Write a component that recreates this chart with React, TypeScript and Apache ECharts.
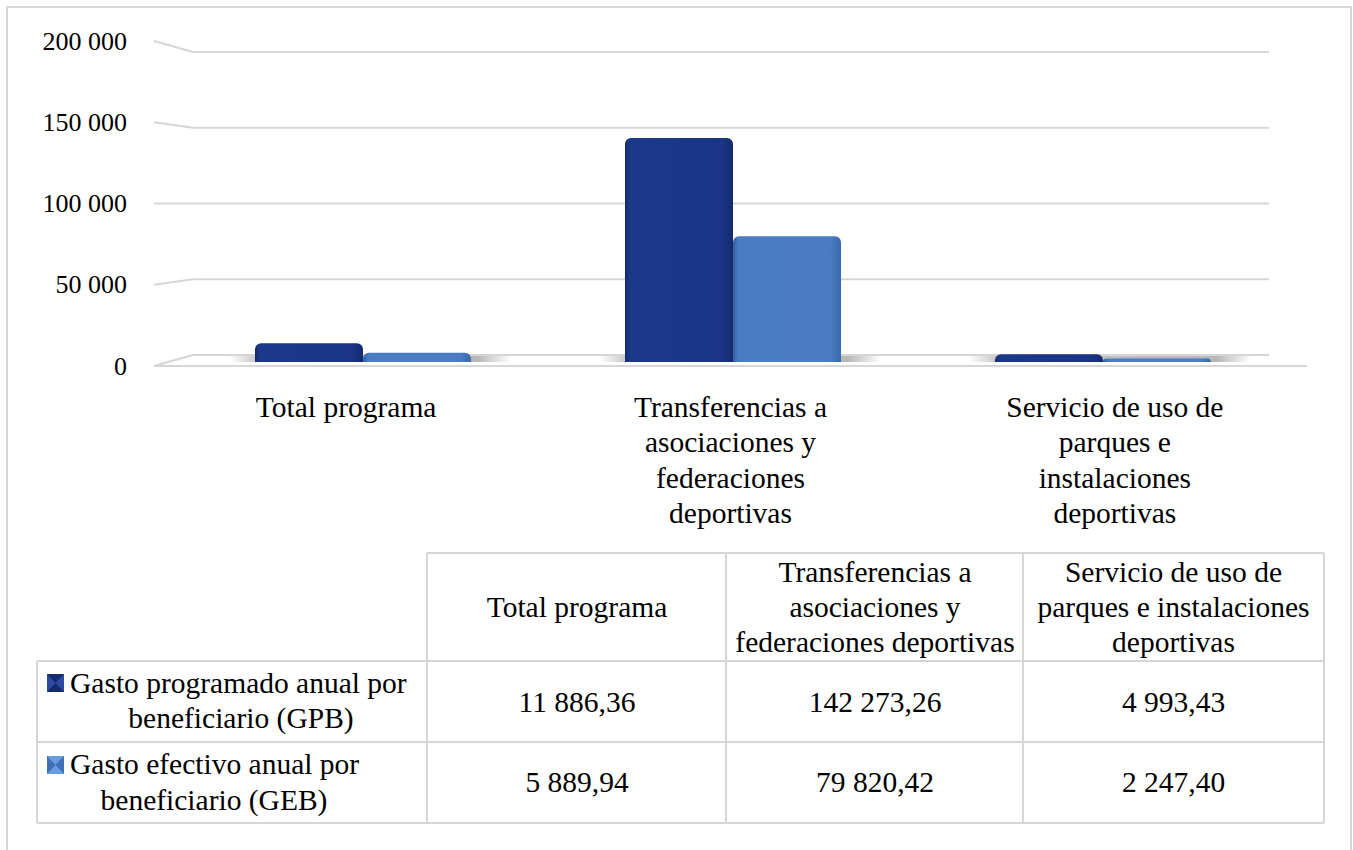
import React, { useEffect, useRef } from "react";
import * as echarts from "echarts";

// ---------- data ----------
const categories = [
  "Total programa",
  "Transferencias a asociaciones y federaciones deportivas",
  "Servicio de uso de parques e instalaciones deportivas",
];
const axisCategoryLabels = [
  "Total programa",
  "Transferencias a\nasociaciones y\nfederaciones\ndeportivas",
  "Servicio de uso de\nparques e\ninstalaciones\ndeportivas",
];
const tableHeaderLabels = [
  "Total programa",
  "Transferencias a\nasociaciones y\nfederaciones deportivas",
  "Servicio de uso de\nparques e instalaciones\ndeportivas",
];
const seriesNames = [
  "Gasto programado anual por beneficiario (GPB)",
  "Gasto efectivo anual por beneficiario (GEB)",
];
const seriesNameLines = [
  ["Gasto programado anual por", "beneficiario (GPB)"],
  ["Gasto efectivo anual por", "beneficiario (GEB)"],
];
const gpbValues = [11886.36, 142273.26, 4993.43];
const gebValues = [5889.94, 79820.42, 2247.4];
const yTicks = [0, 50000, 100000, 150000, 200000];
const yTickLabels = ["0", "50 000", "100 000", "150 000", "200 000"];

// ---------- helpers ----------
const fmt = (v: number) => {
  const [i, d] = v.toFixed(2).split(".");
  return i.replace(/\B(?=(\d{3})+(?!\d))/g, " ") + "," + d;
};
const FONT = "Liberation Serif";
const GRID_LINE = "#d6d6d6";
const DARK = "#1b3686";
const LIGHT = "#4a7cc4";

function txt(text: string, x: number, y: number, align: string, vAlign: string, extra: any = {}) {
  return {
    type: "text",
    style: {
      text,
      x,
      y,
      fill: "#000",
      fontSize: 29.5,
      fontFamily: FONT,
      align,
      verticalAlign: vAlign,
      textAlign: align,
      textVerticalAlign: vAlign,
      lineHeight: 35,
      ...extra,
    },
  };
}

function hline(x1: number, x2: number, y: number) {
  return { type: "line", shape: { x1, y1: y, x2, y2: y }, style: { stroke: GRID_LINE, lineWidth: 2 } };
}
function vline(x: number, y1: number, y2: number) {
  return { type: "line", shape: { x1: x, y1, x2: x, y2 }, style: { stroke: GRID_LINE, lineWidth: 2 } };
}

function icon(x: number, y: number, base: string, hour: string) {
  const w = 17,
    h = 18;
  return [
    { type: "rect", shape: { x, y, width: w, height: h }, style: { fill: base } },
    {
      type: "polygon",
      shape: { points: [[x, y], [x + w, y], [x + w / 2, y + h / 2]] },
      style: { fill: hour },
    },
    {
      type: "polygon",
      shape: { points: [[x, y + h], [x + w, y + h], [x + w / 2, y + h / 2]] },
      style: { fill: hour },
    },
  ];
}

export default function App() {
  const ref = useRef<HTMLDivElement>(null);

  useEffect(() => {
    if (!ref.current) return;
    const chart = echarts.init(ref.current, null, { renderer: "svg" });

    const colCenters = [577, 875, 1173.5];
    const rowCenters = [702, 782];
    const seriesValues = [gpbValues, gebValues];

    const tableEls: any[] = [
      // outer frame
      {
        type: "rect",
        shape: { x: 7, y: 7, width: 1344, height: 900 },
        style: { fill: "none", stroke: "#d9d9d9", lineWidth: 2 },
        z: -10,
      },
      hline(427, 1324, 553),
      hline(37, 1324, 661),
      hline(37, 1324, 742),
      hline(37, 1324, 823),
      vline(37, 661, 823),
      vline(427, 553, 823),
      vline(726, 553, 823),
      vline(1023, 553, 823),
      vline(1324, 553, 823),
    ];
    tableHeaderLabels.forEach((h, i) => {
      tableEls.push(txt(h, colCenters[i], 607, "center", "middle"));
    });
    seriesValues.forEach((vals, r) => {
      vals.forEach((v, c) => {
        tableEls.push(txt(fmt(v), colCenters[c], rowCenters[r], "center", "middle"));
      });
    });
    // row headers with legend icons
    const rowLine1Y = [683, 764];
    const rowLine2Y = [718, 800];
    const rowLine2X = [241, 214];
    const iconY = [674, 756];
    const iconColors = [
      ["#2c4ba0", "#142b6e"],
      ["#3f70b8", "#6a9be0"],
    ];
    seriesNameLines.forEach((lines, r) => {
      tableEls.push(...icon(47, iconY[r], iconColors[r][0], iconColors[r][1]));
      tableEls.push(txt(lines[0], 70, rowLine1Y[r], "left", "middle"));
      tableEls.push(txt(lines[1], rowLine2X[r], rowLine2Y[r], "center", "middle"));
    });

    const barGrad = (stops: [number, string][]) =>
      new echarts.graphic.LinearGradient(
        0,
        0,
        1,
        0,
        stops.map(([offset, color]) => ({ offset, color }))
      );

    chart.setOption({
      animation: false,
      backgroundColor: "#ffffff",
      grid: { left: 178, right: 65, top: 47, bottom: 488, containLabel: false },
      xAxis: {
        type: "category",
        data: categories,
        axisLine: { show: false },
        axisTick: { show: false },
        axisLabel: { show: false },
        splitLine: { show: false },
      },
      yAxis: {
        type: "value",
        min: 0,
        max: 200000,
        interval: 50000,
        axisLine: { show: false },
        axisTick: { show: false },
        axisLabel: { show: false },
        splitLine: { show: false },
      },
      graphic: { elements: tableEls },
      series: [
        {
          // 3D frame: back gridlines, left wall slants, floor and tick labels
          type: "custom",
          name: "frame",
          clip: false,
          silent: true,
          z: 0,
          data: yTicks.map((v) => [0, v]),
          renderItem: (params: any, api: any) => {
            const cs = params.coordSys;
            const v = api.value(1);
            const idx = params.dataIndex;
            const ym = api.coord([0, v])[1];
            const base = cs.y + cs.height;
            const backY = base - 7 + (ym - base) * (303 / 315);
            const frontY = base + 4 + (ym - base) * (325 / 315);
            const backL = cs.x + 15;
            const backR = cs.x + cs.width - 19;
            const frontL = cs.x - 24;
            const frontR = cs.x + cs.width + 19;
            const ls = { stroke: GRID_LINE, lineWidth: 2 };
            const children: any[] = [
              { type: "line", shape: { x1: backL, y1: backY, x2: backR, y2: backY }, style: ls },
              { type: "line", shape: { x1: frontL, y1: frontY, x2: backL, y2: backY }, style: ls },
              {
                type: "text",
                style: {
                  text: yTickLabels[idx],
                  x: frontL - 27,
                  y: frontY,
                  fill: "#000",
                  fontSize: 26,
                  fontFamily: FONT,
                  align: "right",
                  verticalAlign: "middle",
                  textAlign: "right",
                  textVerticalAlign: "middle",
                },
              },
            ];
            if (v === 0) {
              children.push({
                type: "line",
                shape: { x1: frontL, y1: frontY, x2: frontR, y2: frontY },
                style: ls,
              });
            }
            return { type: "group", children };
          },
        },
        {
          // category labels on the front plane
          type: "custom",
          name: "categoryLabels",
          clip: false,
          silent: true,
          z: 0,
          data: categories.map((_, i) => [i, 0]),
          renderItem: (params: any, api: any) => {
            const cs = params.coordSys;
            const i = api.value(0);
            const p = api.coord([i, 0]);
            const frontX = cs.x - 24 + (p[0] - cs.x) * ((cs.width + 43) / cs.width);
            return {
              type: "text",
              style: {
                text: axisCategoryLabels[params.dataIndex],
                x: frontX,
                y: p[1] + 27,
                fill: "#000",
                fontSize: 29.5,
                fontFamily: FONT,
                align: "center",
                verticalAlign: "top",
                textAlign: "center",
                textVerticalAlign: "top",
                lineHeight: 35.5,
              },
            };
          },
        },
        {
          // soft floor shadow under each pair of bars
          type: "custom",
          name: "shadow",
          clip: false,
          silent: true,
          z: 1,
          data: categories.map((_, i) => [i, 0]),
          renderItem: (params: any, api: any) => {
            const p = api.coord([api.value(0), 0]);
            const x0 = p[0] - 108 - 26;
            const x1 = p[0] + 108 + 40;
            return {
              type: "rect",
              shape: { x: x0, y: p[1] - 6, width: x1 - x0, height: 6, r: 3 },
              style: {
                fill: new echarts.graphic.LinearGradient(0, 0, 1, 0, [
                  { offset: 0, color: "rgba(0,0,0,0)" },
                  { offset: 0.1, color: "rgba(0,0,0,0.22)" },
                  { offset: 0.88, color: "rgba(0,0,0,0.28)" },
                  { offset: 1, color: "rgba(0,0,0,0)" },
                ]),
              },
            };
          },
        },
        {
          type: "bar",
          name: seriesNames[0],
          data: gpbValues,
          barWidth: 108,
          barGap: "0%",
          z: 3,
          itemStyle: {
            borderRadius: [6, 6, 0, 0],
            color: barGrad([
              [0, "#14296a"],
              [0.04, "#1c388a"],
              [0.9, "#1a3585"],
              [1, "#142b6c"],
            ]),
          },
        },
        {
          type: "bar",
          name: seriesNames[1],
          data: gebValues,
          barWidth: 108,
          barGap: "0%",
          z: 3,
          itemStyle: {
            borderRadius: [6, 6, 0, 0],
            color: barGrad([
              [0, "#36609f"],
              [0.05, "#4a7cc4"],
              [0.9, "#4a7bc3"],
              [1, "#3c69ad"],
            ]),
          },
        },
      ],
    });

    return () => chart.dispose();
  }, []);

  return (
    <div
      ref={ref}
      style={{ position: "fixed", left: 0, top: 0, width: 1353, height: 850, background: "#fff" }}
    />
  );
}
